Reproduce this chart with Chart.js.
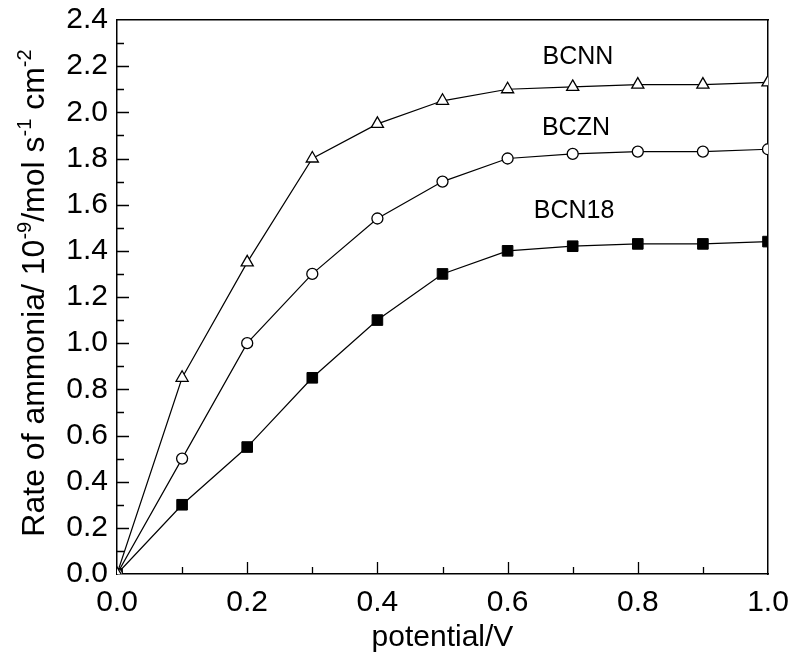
<!DOCTYPE html>
<html>
<head>
<meta charset="utf-8">
<script src="https://cdn.jsdelivr.net/npm/chart.js@4.4.0/dist/chart.umd.min.js"></script>
<style>
  html, body { margin: 0; padding: 0; background: #fff; }
  #wrap { width: 789px; height: 654px; }
</style>
</head>
<body>
<div id="wrap"><canvas id="chart" width="789" height="654"></canvas></div>
<script>
// potentiel appliqué (V)
const potential = [0.0, 0.1, 0.2, 0.3, 0.4, 0.5, 0.6, 0.7, 0.8, 0.9, 1.0];

// taux de production d'ammoniac, 10^-9 mol s-1 cm-2
const bcnn  = [0.0, 0.85, 1.35, 1.80, 1.95, 2.05, 2.10, 2.11, 2.12, 2.12, 2.13];
const bczn  = [0.0, 0.50, 1.00, 1.30, 1.54, 1.70, 1.80, 1.82, 1.83, 1.83, 1.84];
const bcn18 = [0.0, 0.30, 0.55, 0.85, 1.10, 1.30, 1.40, 1.42, 1.43, 1.43, 1.44];

const seriesNames = ['BCNN', 'BCZN', 'BCN18'];
// position des étiquettes, en coordonnées de données
const labelX = [0.708, 0.705, 0.702];
const labelY = [2.24, 1.93, 1.57];

const xTitle = 'potential/V';
// titre de l'axe y, morceaux normaux / exposants
const yTitleParts = [
    ['Rate of ammonia/ 10', false],
    ['-9', true],
    ['/mol s', false],
    ['-1', true],
    [' cm', false],
    ['-2', true]
];

const FONT = '"Liberation Sans", Arial, sans-serif';

function toPoints(values) {
    return potential.map((x, i) => ({ x: x, y: values[i] }));
}

// graduations vers l'intérieur, titres et étiquettes
const decorPlugin = {
    id: 'decor',
    afterDraw(chart) {
        const ctx = chart.ctx;
        const xs = chart.scales.x;
        const ys = chart.scales.y;
        const area = chart.chartArea;
        ctx.save();
        ctx.strokeStyle = '#000';
        ctx.lineWidth = 1.3;
        ctx.beginPath();
        for (let i = 1; i < 10; i++) {
            const px = Math.round(xs.getPixelForValue(i / 10)) + 0.5;
            const len = i % 2 === 0 ? 12 : 7;
            ctx.moveTo(px, area.bottom);
            ctx.lineTo(px, area.bottom - len);
        }
        for (let i = 1; i < 24; i++) {
            const py = Math.round(ys.getPixelForValue(i / 10)) + 0.5;
            const len = i % 2 === 0 ? 12 : 7;
            ctx.moveTo(area.left, py);
            ctx.lineTo(area.left + len, py);
        }
        ctx.stroke();

        // étiquettes des séries
        ctx.fillStyle = '#000';
        ctx.font = '25px ' + FONT;
        ctx.textAlign = 'center';
        ctx.textBaseline = 'middle';
        seriesNames.forEach((name, i) => {
            ctx.fillText(name, xs.getPixelForValue(labelX[i]), ys.getPixelForValue(labelY[i]));
        });

        // titre x
        ctx.font = '30px ' + FONT;
        ctx.textBaseline = 'alphabetic';
        ctx.fillText(xTitle, (area.left + area.right) / 2, 646);

        // titre y avec exposants
        const bigFont = '32px ' + FONT;
        const smallFont = '20px ' + FONT;
        let total = 0;
        yTitleParts.forEach(([t, sup]) => {
            ctx.font = sup ? smallFont : bigFont;
            total += ctx.measureText(t).width;
        });
        ctx.translate(44, 293);
        ctx.rotate(-Math.PI / 2);
        ctx.textAlign = 'left';
        let pos = -total / 2;
        yTitleParts.forEach(([t, sup]) => {
            ctx.font = sup ? smallFont : bigFont;
            ctx.fillText(t, pos, sup ? -13 : 0);
            pos += ctx.measureText(t).width;
        });
        ctx.restore();
    }
};

function noPad(scale) {
    scale.paddingLeft = 0;
    scale.paddingRight = 0;
    scale.paddingTop = 0;
    scale.paddingBottom = 0;
}

const ctx = document.getElementById('chart').getContext('2d');
const myChart = new Chart(ctx, {
    type: 'line',
    data: {
        datasets: [
            {
                label: seriesNames[0],
                data: toPoints(bcnn),
                clip: 0,
                borderColor: '#000',
                borderWidth: 1.2,
                pointStyle: 'triangle',
                pointRadius: 7,
                pointBackgroundColor: '#fff',
                pointBorderColor: '#000',
                pointBorderWidth: 1.3
            },
            {
                label: seriesNames[1],
                data: toPoints(bczn),
                clip: 0,
                borderColor: '#000',
                borderWidth: 1.2,
                pointStyle: 'circle',
                pointRadius: 5.5,
                pointBackgroundColor: '#fff',
                pointBorderColor: '#000',
                pointBorderWidth: 1.3
            },
            {
                label: seriesNames[2],
                data: toPoints(bcn18),
                clip: 0,
                borderColor: '#000',
                borderWidth: 1.2,
                pointStyle: 'rect',
                pointRadius: 7.5,
                pointBackgroundColor: '#000',
                pointBorderColor: '#000',
                pointBorderWidth: 1
            }
        ]
    },
    options: {
        responsive: false,
        animation: false,
        layout: { padding: { top: 20, right: 21, bottom: 0, left: 0 } },
        plugins: {
            legend: { display: false },
            tooltip: { enabled: false }
        },
        scales: {
            x: {
                type: 'linear',
                min: 0,
                max: 1,
                grid: { display: false, drawTicks: false },
                border: { display: true, color: '#000', width: 1.5 },
                ticks: {
                    stepSize: 0.2,
                    color: '#000',
                    padding: 11,
                    font: { family: FONT, size: 30 },
                    callback: v => v.toFixed(1)
                },
                afterFit(scale) { scale.height = 80; noPad(scale); }
            },
            y: {
                min: 0,
                max: 2.4,
                grid: { display: false, drawTicks: false },
                border: { display: true, color: '#000', width: 1.5 },
                ticks: {
                    stepSize: 0.2,
                    color: '#000',
                    padding: 9,
                    font: { family: FONT, size: 30 },
                    callback: v => v.toFixed(1)
                },
                afterFit(scale) { scale.width = 117; noPad(scale); }
            },
            x2: {
                type: 'linear',
                position: 'top',
                min: 0,
                max: 1,
                grid: { display: false, drawTicks: false },
                border: { display: true, color: '#000', width: 1.5 },
                ticks: { display: false },
                afterFit(scale) { scale.height = 0; noPad(scale); }
            },
            y2: {
                position: 'right',
                min: 0,
                max: 2.4,
                grid: { display: false, drawTicks: false },
                border: { display: true, color: '#000', width: 1.5 },
                ticks: { display: false },
                afterFit(scale) { scale.width = 0; noPad(scale); }
            }
        }
    },
    plugins: [decorPlugin]
});
</script>
</body>
</html>
